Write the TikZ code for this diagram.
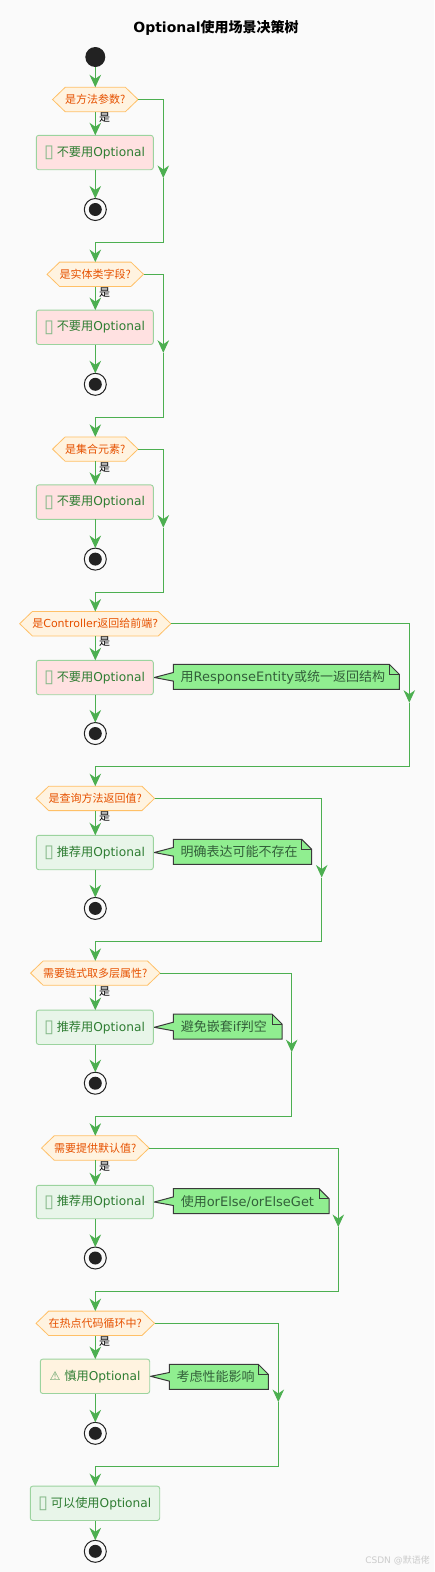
\documentclass[tikz,border=0pt]{standalone}
\usepackage{fontspec}
\usetikzlibrary{arrows.meta,shapes.symbols,backgrounds}
\setmainfont{DejaVu Sans}
\newfontfamily\cjk{Noto Sans CJK SC}
\definecolor{pagebg}{HTML}{FAFAFA}
\definecolor{flowc}{HTML}{4CAF50}
\definecolor{hexfill}{HTML}{FFF3E0}
\definecolor{hexline}{HTML}{FFC067}
\definecolor{hextext}{HTML}{E65100}
\definecolor{boxline}{HTML}{9BD39E}
\definecolor{boxtext}{HTML}{2E7D32}
\definecolor{badfill}{HTML}{FFE1E1}
\definecolor{goodfill}{HTML}{E8F5E9}
\definecolor{warnfill}{HTML}{FFF3E0}
\definecolor{notefill}{HTML}{90EE90}
\definecolor{noteline}{HTML}{3A3A3A}
\definecolor{notetext}{HTML}{33603A}
\definecolor{dotc}{HTML}{222222}
\definecolor{tofuc}{HTML}{86B98A}
\definecolor{markc}{HTML}{CCCCCC}
\newcommand{\tofu}{\makebox[12.1pt][l]{\hspace{-.6pt}\smash{\raisebox{-1.6pt}{\textcolor{tofuc}{\fontsize{18}{18}\selectfont ▯}}}}}
\newcommand{\notecall}[6]{%
  \node[notebody] (#1) at (#3,#4) {\makebox[#5pt][l]{\hspace{7.4pt}#6}};
  \begin{pgfonlayer}{background}
    \draw[noteline,fill=notefill,line width=1pt,line join=miter]
      (#1.north west) -- ([xshift=-10pt]#1.north east) -- ([yshift=-10pt]#1.north east)
      -- (#1.south east) -- (#1.south west) -- ([yshift=-4.3pt]#1.west)
      -- ([xshift=1pt]#2.east) -- ([yshift=4.3pt]#1.west) -- cycle;
    \draw[noteline,line width=1pt] ([xshift=-10pt]#1.north east)
      -- ([xshift=-10pt,yshift=-10pt]#1.north east) -- ([yshift=-10pt]#1.north east);
  \end{pgfonlayer}}
\tikzset{
  x=1pt,y=-1pt,
  flowline/.style={draw=flowc,line width=1pt},
  flowarrow/.style={draw=flowc,line width=1pt,-{Stealth[length=12.5pt,width=11.5pt,inset=4pt,fill=flowc]}},
  decide/.style={shape=signal,signal to=east and west,signal from=nowhere,signal pointer angle=88,
    draw=hexline,fill=hexfill,line width=.8pt,text=hextext,inner sep=0pt,outer sep=0pt,
    minimum height=24.4pt,font=\fontsize{11}{12}\selectfont},
  action/.style={rectangle,rounded corners=2.5pt,draw=boxline,line width=.9pt,text=boxtext,inner sep=0pt,
    outer sep=0pt,minimum height=34.4pt,font=\fontsize{12.2}{14}\selectfont},
  notebody/.style={rectangle,inner sep=0pt,outer sep=0pt,minimum height=25pt,text=notetext,
    text height=12pt,text depth=1.8pt,font=\fontsize{13}{15}\selectfont},
  startdot/.style={circle,fill=dotc,inner sep=0pt,outer sep=0pt,minimum size=20pt},
  stopdot/.style={circle,draw=dotc,line width=1pt,fill=pagebg,inner sep=0pt,outer sep=0pt,minimum size=22pt,
    path picture={\fill[dotc] (path picture bounding box.center) circle (6.5pt);}},
  yeslabel/.style={text=black,inner sep=0pt,font=\fontsize{11}{12}\selectfont},
}
\begin{document}
\begin{tikzpicture}
\useasboundingbox (0,0) rectangle (434,1572);
\begin{pgfonlayer}{background}
  \fill[pagebg] (0,0) rectangle (434,1572);
\end{pgfonlayer}
\node[font=\fontsize{14}{16}\selectfont\bfseries] (title) at (216,28) {Optional{\cjk 使用场景决策树}};
\node[startdot] (start) at (95.3,57) {};

% block 1
\node[decide,minimum width=85pt] (h1) at (95.3,99.5) {\cjk 是方法参数?};
\node[action,fill=badfill,minimum width=117pt] (b1) at (94.8,152.5) {\tofu{\cjk 不要用}Optional};
\node[stopdot] (s1) at (95.3,209.5) {};
\node[yeslabel] (y1) at (104.7,118) {\cjk 是};
\coordinate (a1) at (163.3,178);
\coordinate (m1) at (95.3,242.5);
% block 2
\node[decide,minimum width=96pt] (h2) at (95.3,274.3) {\cjk 是实体类字段?};
\node[action,fill=badfill,minimum width=117pt] (b2) at (94.8,327.3) {\tofu{\cjk 不要用}Optional};
\node[stopdot] (s2) at (95.3,384.3) {};
\node[yeslabel] (y2) at (104.7,292.8) {\cjk 是};
\coordinate (a2) at (163.3,352.8);
\coordinate (m2) at (95.3,417.3);
% block 3
\node[decide,minimum width=85pt] (h3) at (95.3,449.1) {\cjk 是集合元素?};
\node[action,fill=badfill,minimum width=117pt] (b3) at (94.8,502.1) {\tofu{\cjk 不要用}Optional};
\node[stopdot] (s3) at (95.3,559.1) {};
\node[yeslabel] (y3) at (104.7,467.6) {\cjk 是};
\coordinate (a3) at (163.3,527.6);
\coordinate (m3) at (95.3,592.1);
% block 4
\node[decide,minimum width=150pt] (h4) at (95.3,623.7) {{\cjk 是}Controller{\cjk 返回给前端}?};
\node[action,fill=badfill,minimum width=117pt] (b4) at (94.8,677.5) {\tofu{\cjk 不要用}Optional};
\node[stopdot] (s4) at (95.3,733.5) {};
\node[yeslabel] (y4) at (104.7,642) {\cjk 是};
\coordinate (a4) at (409.3,702.7);
\coordinate (m4) at (95.3,766.5);
\notecall{n4}{b4}{286.3}{676.8}{226}{{\cjk 用}ResponseEntity{\cjk 或统一返回结构}}
% block 5
\node[decide,minimum width=118pt] (h5) at (95.3,798.4) {\cjk 是查询方法返回值?};
\node[action,fill=goodfill,minimum width=117pt] (b5) at (94.8,852.5) {\tofu{\cjk 推荐用}Optional};
\node[stopdot] (s5) at (95.3,908.4) {};
\node[yeslabel] (y5) at (104.7,817) {\cjk 是};
\coordinate (a5) at (321.7,877.5);
\coordinate (m5) at (95.3,941.4);
\notecall{n5}{b5}{242.5}{851.8}{138.4}{\cjk 明确表达可能不存在}
% block 6
\node[decide,minimum width=129.4pt] (h6) at (95.3,973.1) {\cjk 需要链式取多层属性?};
\node[action,fill=goodfill,minimum width=117pt] (b6) at (94.8,1027.3) {\tofu{\cjk 推荐用}Optional};
\node[stopdot] (s6) at (95.3,1083.2) {};
\node[yeslabel] (y6) at (104.7,991.8) {\cjk 是};
\coordinate (a6) at (291.7,1052.2);
\coordinate (m6) at (95.3,1116.2);
\notecall{n6}{b6}{227.7}{1026.5}{108.7}{{\cjk 避免嵌套}if{\cjk 判空}}
% block 7
\node[decide,minimum width=107pt] (h7) at (95.3,1148) {\cjk 需要提供默认值?};
\node[action,fill=goodfill,minimum width=117pt,minimum height=33.4pt] (b7) at (94.8,1202) {\tofu{\cjk 推荐用}Optional};
\node[stopdot] (s7) at (95.3,1258) {};
\node[yeslabel] (y7) at (104.7,1166.6) {\cjk 是};
\coordinate (a7) at (338.3,1227);
\coordinate (m7) at (95.3,1291);
\notecall{n7}{b7}{251.2}{1201.2}{155.7}{{\cjk 使用}orElse/orElseGet}
% block 8
\node[decide,minimum width=118pt] (h8) at (95.3,1323.3) {\cjk 在热点代码循环中?};
\node[action,fill=warnfill,minimum width=109.4pt] (b8) at (95,1376.3) {\textcolor{tofuc!60!boxtext}{⚠}\hspace{4pt}{\cjk 慎用}Optional};
\node[stopdot] (s8) at (95.3,1433.3) {};
\node[yeslabel] (y8) at (104.7,1342) {\cjk 是};
\coordinate (a8) at (278.3,1402);
\coordinate (m8) at (95.3,1466.3);
\notecall{n8}{b8}{218.8}{1376.8}{99}{\cjk 考虑性能影响}
% final
\node[action,fill=goodfill,minimum width=129.4pt] (b9) at (95,1503.3) {\tofu{\cjk 可以使用}Optional};
\node[stopdot] (s9) at (95.3,1551.3) {};

\node[text=markc,inner sep=0pt,anchor=east,font=\fontsize{9}{10}\selectfont] (mark) at (430,1560.7) {CSDN @{\cjk 默语佬}};

% connectors
\draw[flowarrow] (start) -- (h1.north -| start);
\draw[flowarrow] (h1.south -| start) -- (b1.north -| start);
\draw[flowarrow] (b1.south -| start) -- (s1.north);
\draw[flowarrow] (h1.east) -| (a1);
\draw[flowline] (a1) |- (m1);
\draw[flowarrow] (m1) -- (h2.north -| m1);
\draw[flowarrow] (h2.south -| start) -- (b2.north -| start);
\draw[flowarrow] (b2.south -| start) -- (s2.north);
\draw[flowarrow] (h2.east) -| (a2);
\draw[flowline] (a2) |- (m2);
\draw[flowarrow] (m2) -- (h3.north -| m2);
\draw[flowarrow] (h3.south -| start) -- (b3.north -| start);
\draw[flowarrow] (b3.south -| start) -- (s3.north);
\draw[flowarrow] (h3.east) -| (a3);
\draw[flowline] (a3) |- (m3);
\draw[flowarrow] (m3) -- (h4.north -| m3);
\draw[flowarrow] (h4.south -| start) -- (b4.north -| start);
\draw[flowarrow] (b4.south -| start) -- (s4.north);
\draw[flowarrow] (h4.east) -| (a4);
\draw[flowline] (a4) |- (m4);
\draw[flowarrow] (m4) -- (h5.north -| m4);
\draw[flowarrow] (h5.south -| start) -- (b5.north -| start);
\draw[flowarrow] (b5.south -| start) -- (s5.north);
\draw[flowarrow] (h5.east) -| (a5);
\draw[flowline] (a5) |- (m5);
\draw[flowarrow] (m5) -- (h6.north -| m5);
\draw[flowarrow] (h6.south -| start) -- (b6.north -| start);
\draw[flowarrow] (b6.south -| start) -- (s6.north);
\draw[flowarrow] (h6.east) -| (a6);
\draw[flowline] (a6) |- (m6);
\draw[flowarrow] (m6) -- (h7.north -| m6);
\draw[flowarrow] (h7.south -| start) -- (b7.north -| start);
\draw[flowarrow] (b7.south -| start) -- (s7.north);
\draw[flowarrow] (h7.east) -| (a7);
\draw[flowline] (a7) |- (m7);
\draw[flowarrow] (m7) -- (h8.north -| m7);
\draw[flowarrow] (h8.south -| start) -- (b8.north -| start);
\draw[flowarrow] (b8.south -| start) -- (s8.north);
\draw[flowarrow] (h8.east) -| (a8);
\draw[flowline] (a8) |- (m8);
\draw[flowarrow] (m8) -- (b9.north -| m8);
\draw[flowarrow] (b9.south -| start) -- (s9.north);
\end{tikzpicture}
\end{document}
